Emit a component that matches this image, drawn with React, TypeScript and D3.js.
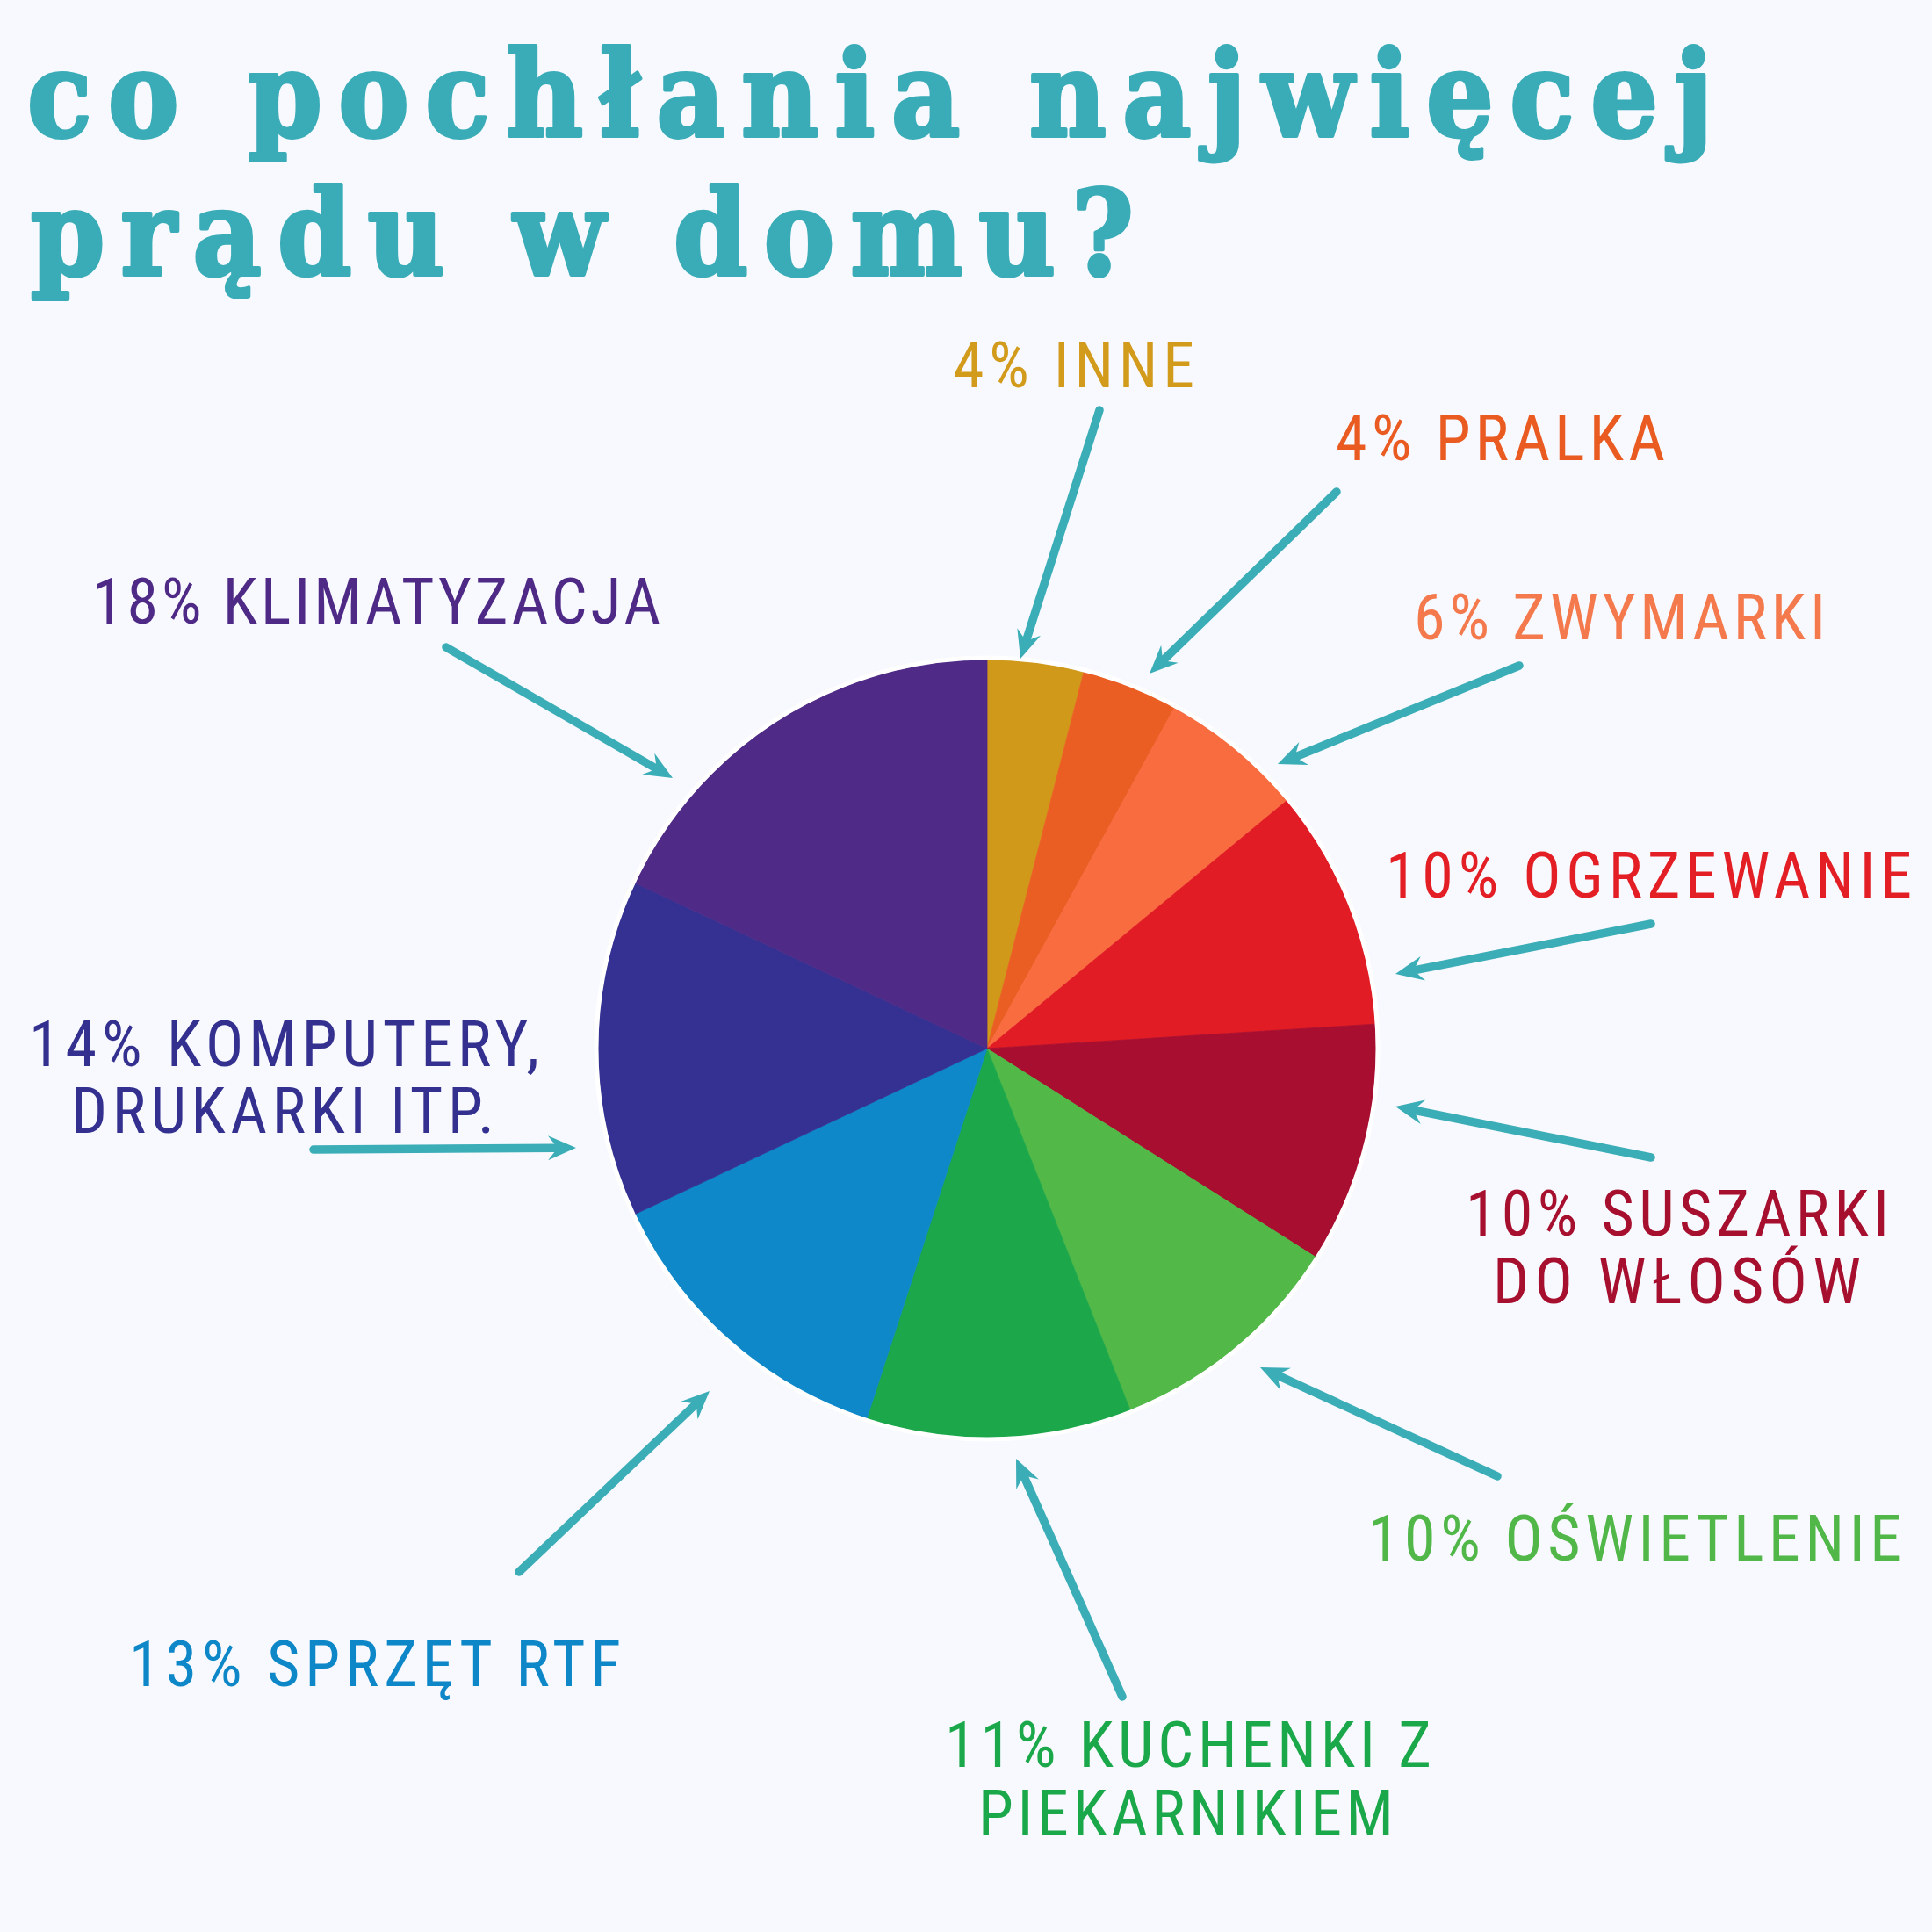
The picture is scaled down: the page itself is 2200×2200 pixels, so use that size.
import React from "react";
import * as d3 from "d3";

// ---- data ----
const categories = [
  "INNE",
  "PRALKA",
  "ZWYMARKI",
  "OGRZEWANIE",
  "SUSZARKI DO WŁOSÓW",
  "OŚWIETLENIE",
  "KUCHENKI Z PIEKARNIKIEM",
  "SPRZĘT RTF",
  "KOMPUTERY, DRUKARKI ITP.",
  "KLIMATYZACJA",
];
const values = [4, 4, 6, 10, 10, 10, 11, 13, 14, 18];
const labelLines = [
  ["4% INNE"],
  ["4% PRALKA"],
  ["6% ZWYMARKI"],
  ["10% OGRZEWANIE"],
  ["10% SUSZARKI", "DO WŁOSÓW"],
  ["10% OŚWIETLENIE"],
  ["11% KUCHENKI Z", "PIEKARNIKIEM"],
  ["13% SPRZĘT RTF"],
  ["14% KOMPUTERY,", "DRUKARKI ITP."],
  ["18% KLIMATYZACJA"],
];
const titleLines = ["co pochłania najwięcej", "prądu w domu?"];

// ---- styles ----
const sliceColors = [
  "#D0991A",
  "#EB5E23",
  "#F86C40",
  "#E11C25",
  "#A80E2F",
  "#52B848",
  "#1CA84A",
  "#0E88C8",
  "#353192",
  "#4F2A87",
];
const textColors = [
  "#D39B1C",
  "#EA5B22",
  "#F47A4E",
  "#E31E25",
  "#A70F2F",
  "#50B748",
  "#1BA84A",
  "#0D87C7",
  "#34308F",
  "#4E2A86",
];
const teal = "#3BADB7";
const bg = "#F7F9FE";

// ---- annotation layout (label lines: [x, baseline, width]; arrows: tail -> tip) ----
const labelLayout = [
  { lines: [[1085, 441, 275]], arrow: [1252, 467, 1162, 750] },
  { lines: [[1521, 524, 375]], arrow: [1522, 560, 1309, 767] },
  { lines: [[1610, 728, 469]], arrow: [1730, 758, 1455, 870] },
  { lines: [[1578, 1022, 599]], arrow: [1880, 1052, 1589, 1109] },
  { lines: [[1669, 1407, 482], [1700, 1484, 419]], arrow: [1880, 1318, 1589, 1260] },
  { lines: [[1558, 1777, 607]], arrow: [1705, 1681, 1435, 1557] },
  { lines: [[1076, 2012, 554], [1114, 2090, 473]], arrow: [1278, 1932, 1157, 1661] },
  { lines: [[147, 1920, 560]], arrow: [591, 1790, 808, 1584] },
  { lines: [[33, 1214, 581], [81, 1290, 482]], arrow: [357, 1309, 656, 1307] },
  { lines: [[105, 710, 647]], arrow: [508, 737, 766, 886] },
];

const W = 2200;
const H = 2200;
const cx = 1124;
const cy = 1194;
const R = 443;

function Arrow({ a }: { a: number[] }) {
  const [x1, y1, x2, y2] = a;
  const dx = x2 - x1;
  const dy = y2 - y1;
  const len = Math.hypot(dx, dy);
  const ux = dx / len;
  const uy = dy / len;
  const nx = -uy;
  const ny = ux;
  const L = 32;
  const hw = 14;
  const notch = 21;
  const bx = x2 - ux * L;
  const by = y2 - uy * L;
  const head = [
    [x2, y2],
    [bx + nx * hw, by + ny * hw],
    [x2 - ux * notch, y2 - uy * notch],
    [bx - nx * hw, by - ny * hw],
  ];
  const lineEnd = [x2 - ux * (notch + 2), y2 - uy * (notch + 2)];
  return (
    <g>
      <line
        x1={x1}
        y1={y1}
        x2={lineEnd[0]}
        y2={lineEnd[1]}
        stroke={teal}
        strokeWidth={9.5}
        strokeLinecap="round"
      />
      <path d={"M" + head.map((p) => p.join(",")).join("L") + "Z"} fill={teal} />
    </g>
  );
}

export default function App() {
  const pie = d3
    .pie<number>()
    .sort(null)
    .value((d) => d)
    .startAngle(0)
    .endAngle(2 * Math.PI);
  const arcs = pie(values);
  const arc = d3.arc<d3.PieArcDatum<number>>().innerRadius(0).outerRadius(R);

  const labelFont =
    "'Liberation Sans Narrow', 'Roboto Condensed', 'DejaVu Sans Condensed', 'Liberation Sans', sans-serif";

  return (
    <svg
      width={W}
      height={H}
      viewBox={`0 0 ${W} ${H}`}
      style={{ position: "absolute", left: 0, top: 0, display: "block" }}
    >
      <rect x={0} y={0} width={W} height={H} fill={bg} />
      {/* title */}
      <g
        fill="#3AACB8"
        stroke="#3AACB8"
        strokeWidth={4}
        strokeLinejoin="round"
        fontFamily="'DejaVu Serif Condensed', 'DejaVu Serif', serif"
        fontWeight="bold"
        fontSize={134}
      >
        <text x={31} y={155} textLength={1919} lengthAdjust="spacing">
          {titleLines[0]}
        </text>
        <text x={35} y={313} textLength={1256} lengthAdjust="spacing">
          {titleLines[1]}
        </text>
      </g>
      {/* pie */}
      <g transform={`translate(${cx},${cy})`}>
        {arcs.map((d, i) => (
          <path
            key={categories[i]}
            d={arc(d) || ""}
            fill={sliceColors[i]}
            stroke={sliceColors[i]}
            strokeWidth={0.8}
          />
        ))}
        <circle r={R + 2} fill="none" stroke="#FFFFFF" strokeWidth={5} />
      </g>
      {/* labels */}
      {labelLayout.map((l, i) => (
        <g key={categories[i]}>
          <Arrow a={l.arrow} />
          {l.lines.map((ln, j) => (
            <text
              key={j}
              x={ln[0]}
              y={ln[1]}
              textLength={ln[2]}
              lengthAdjust="spacing"
              fill={textColors[i]}
              fontFamily={labelFont}
              fontSize={72}
            >
              {labelLines[i][j]}
            </text>
          ))}
        </g>
      ))}
    </svg>
  );
}
